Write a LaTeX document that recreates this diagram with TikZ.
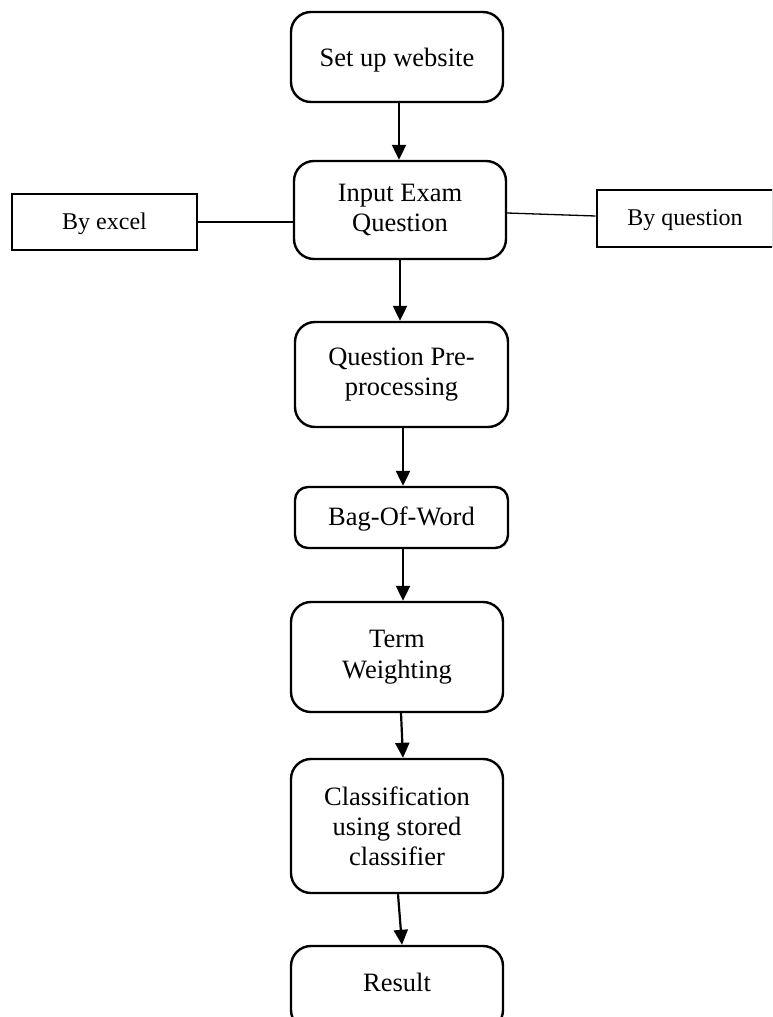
\documentclass[tikz,border=0pt]{standalone}
\usepackage{fontspec}
\setmainfont{Liberation Serif}
\usetikzlibrary{arrows.meta}
\tikzset{
  stepbox/.style={draw=black, line width=2.4pt, rounded corners=20pt, align=center,
    font=\fontsize{26.5}{30}\selectfont, inner sep=0pt, fill=white},
  sidebox/.style={draw=black, line width=2.8pt, align=center,
    font=\fontsize{24}{28}\selectfont, inner sep=0pt, fill=white},
  arr/.style={line width=2.2pt, -{Triangle[length=15pt,width=14pt]}},
  link/.style={line width=1.3pt}
}
\newcommand{\lowertext}[2]{\raisebox{-#1}[\height][\depth]{#2}}
\begin{document}
\begin{tikzpicture}[x=1pt,y=-1pt]
\useasboundingbox (0,0) rectangle (772,1017);
\clip (0,0) rectangle (772,1017);
\fill[white] (0,0) rectangle (772,1017);
\node[stepbox, minimum width=212pt, minimum height=90pt] (n1) at (397,57) {\lowertext{3pt}{Set up website}};
\node[stepbox, minimum width=212pt, minimum height=98pt] (n2) at (400,210) {Input Exam\\Question};
\node[stepbox, minimum width=213pt, minimum height=105pt] (n3) at (401.5,374.5) {Question Pre-\\processing};
\node[stepbox, rounded corners=13pt, minimum width=213pt, minimum height=61pt] (n4) at (401.5,517.5) {\lowertext{2pt}{Bag-Of-Word}};
\node[stepbox, minimum width=212pt, minimum height=110pt] (n5) at (397,657) {Term\\[1pt]Weighting};
\node[stepbox, minimum width=212pt, minimum height=134pt] (n6) at (397,826) {Classification\\using stored\\classifier};
\node[stepbox, minimum width=212pt, minimum height=84pt, text depth=0pt] (n7) at (397,988) {\raisebox{12pt}{Result}};
\node[sidebox, minimum width=185pt, minimum height=56pt] (ex) at (104.5,222) {\lowertext{2pt}{By excel}};
\node[sidebox, minimum width=176pt, minimum height=57pt] (qu) at (685,218.5) {\lowertext{2pt}{By question}};

\draw[arr] ([xshift=2pt]n1.south) -- ([xshift=-1pt]n2.north);
\draw[arr] ([xshift=0pt]n2.south) -- ([xshift=-1.5pt]n3.north);
\draw[arr] ([xshift=1.5pt]n3.south) -- ([xshift=1.5pt]n4.north);
\draw[arr] ([xshift=1.5pt]n4.south) -- ([xshift=6pt]n5.north);
\draw[arr] ([xshift=4pt]n5.south) -- ([xshift=6pt]n6.north);
\draw[arr] ([xshift=1pt]n6.south) -- ([xshift=5pt]n7.north);
\draw[link] (ex.east) -- (n2.west |- ex.east);
\draw[link] (n2.east |- 0,213) -- (qu.west |- 0,216);
\end{tikzpicture}
\end{document}
